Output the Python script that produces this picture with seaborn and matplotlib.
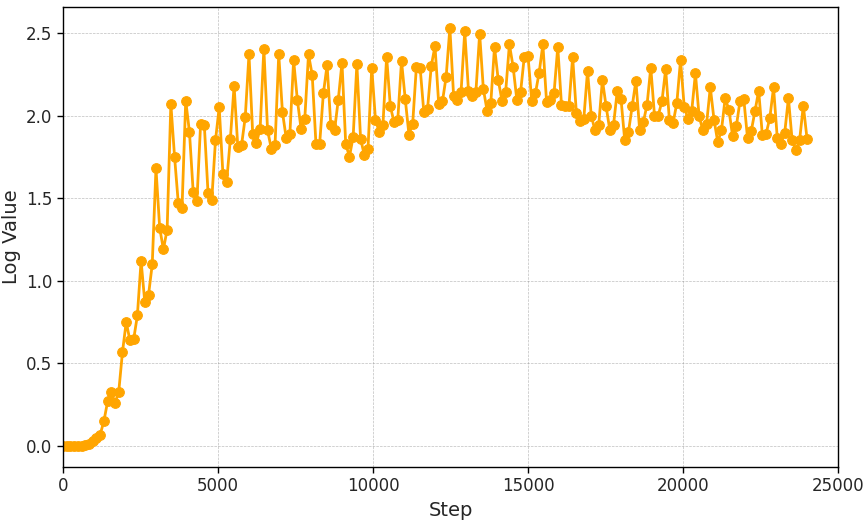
import numpy as np
import pandas as pd
import matplotlib
matplotlib.use("Agg")
import matplotlib.pyplot as plt
import seaborn as sns

step_interval = 120
log_values = [
    0.0, 0.0, 0.0, 0.0, 0.0, 0.0, 0.005, 0.01, 0.03, 0.05,
    0.07, 0.15, 0.27, 0.33, 0.26, 0.33, 0.57, 0.75, 0.64, 0.645,
    0.79, 1.12, 0.87, 0.915, 1.10, 1.68, 1.32, 1.19, 1.31, 2.07,
    1.75, 1.47, 1.44, 2.09, 1.90, 1.54, 1.48, 1.95, 1.94, 1.53,
    1.49, 1.85, 2.05, 1.645, 1.60, 1.86, 2.18, 1.81, 1.82, 1.99,
    2.37, 1.89, 1.835, 1.92, 2.405, 1.91, 1.80, 1.82, 2.37, 2.02,
    1.865, 1.89, 2.335, 2.095, 1.92, 1.98, 2.37, 2.245, 1.83, 1.83,
    2.135, 2.305, 1.94, 1.91, 2.095, 2.32, 1.83, 1.75, 1.87, 2.31,
    1.86, 1.76, 1.80, 2.29, 1.975, 1.90, 1.94, 2.355, 2.055, 1.96,
    1.975, 2.33, 2.10, 1.885, 1.95, 2.295, 2.29, 2.02, 2.04, 2.30,
    2.42, 2.07, 2.085, 2.235, 2.53, 2.12, 2.095, 2.14, 2.51, 2.15,
    2.12, 2.145, 2.495, 2.16, 2.03, 2.075, 2.415, 2.215, 2.09, 2.145,
    2.43, 2.295, 2.095, 2.14, 2.355, 2.36, 2.09, 2.135, 2.26, 2.43,
    2.08, 2.095, 2.135, 2.415, 2.065, 2.055, 2.055, 2.355, 2.015, 1.965,
    1.98, 2.27, 2.0, 1.91, 1.94, 2.215, 2.055, 1.91, 1.945, 2.15,
    2.10, 1.85, 1.90, 2.055, 2.21, 1.915, 1.96, 2.065, 2.29, 2.0,
    2.0, 2.085, 2.28, 1.975, 1.955, 2.075, 2.335, 2.05, 1.98, 2.025,
    2.255, 1.995, 1.91, 1.95, 2.17, 1.975, 1.84, 1.91, 2.105, 2.035,
    1.875, 1.935, 2.09, 2.10, 1.865, 1.905, 2.025, 2.15, 1.88, 1.89,
    1.985, 2.17, 1.865, 1.83, 1.895, 2.105, 1.85, 1.79, 1.85, 2.06,
    1.86,
]
steps = [i * step_interval for i in range(len(log_values))]

df = pd.DataFrame({"Step": steps, "Log Value": log_values})

sns.set_style("white")
plt.rcParams['font.family'] = ['DejaVu Sans']

fig, ax = plt.subplots(figsize=(8.66, 5.22), dpi=100)
plt.subplots_adjust(left=0.0727, right=0.9677, top=0.9866, bottom=0.1054)

sns.lineplot(data=df, x="Step", y="Log Value", ax=ax, color="orange",
             marker="o", markersize=7, markeredgecolor="orange",
             linewidth=2)

ax.set_xlim(0, 25000)
ax.grid(True, linestyle="--", linewidth=0.5, color="gray", alpha=0.5)
for s in ax.spines.values():
    s.set_visible(True)
    s.set_color("black")
    s.set_linewidth(1)
ax.tick_params(axis="both", labelsize=12, length=4, width=1, direction="out",
               bottom=True, left=True, color="black")
ax.set_xlabel("Step", fontsize=14)
ax.set_ylabel("Log Value", fontsize=14)

fig.savefig("out.png", dpi=100)
